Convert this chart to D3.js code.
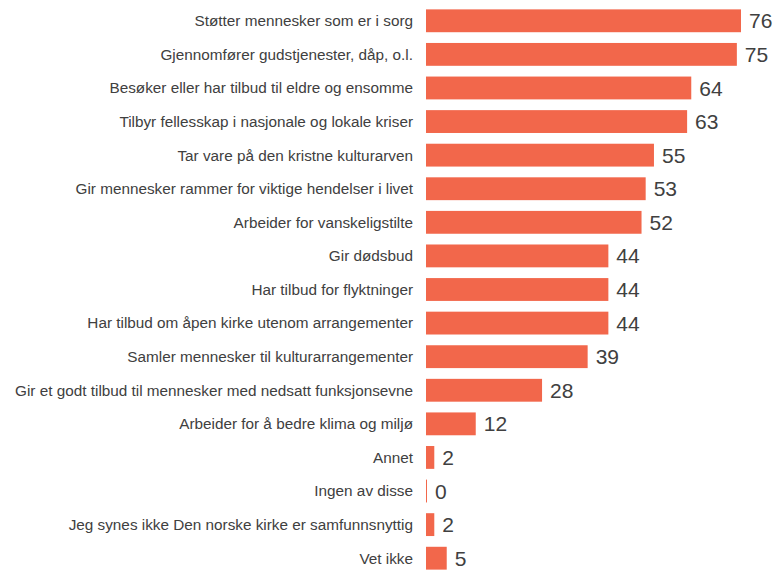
<!DOCTYPE html>
<html><head><meta charset="utf-8">
<script src="https://cdn.jsdelivr.net/npm/d3@7"></script>
<style>body{margin:0;background:#fff}</style>
</head><body>
<svg id="c" width="778" height="570"></svg>
<script>
const categories = [
  "Støtter mennesker som er i sorg",
  "Gjennomfører gudstjenester, dåp, o.l.",
  "Besøker eller har tilbud til eldre og ensomme",
  "Tilbyr fellesskap i nasjonale og lokale kriser",
  "Tar vare på den kristne kulturarven",
  "Gir mennesker rammer for viktige hendelser i livet",
  "Arbeider for vanskeligstilte",
  "Gir dødsbud",
  "Har tilbud for flyktninger",
  "Har tilbud om åpen kirke utenom arrangementer",
  "Samler mennesker til kulturarrangementer",
  "Gir et godt tilbud til mennesker med nedsatt funksjonsevne",
  "Arbeider for å bedre klima og miljø",
  "Annet",
  "Ingen av disse",
  "Jeg synes ikke Den norske kirke er samfunnsnyttig",
  "Vet ikke"
];
const values = [76, 75, 64, 63, 55, 53, 52, 44, 44, 44, 39, 28, 12, 2, 0, 2, 5];

const svg = d3.select("#c");
const x0 = 426;
const x = d3.scaleLinear().domain([0, 76]).range([x0, 741]);
const y = d3.scaleBand().domain(categories).range([4, 575]).paddingInner(0.32).paddingOuter(0.16);

const g = svg.append("g");
g.selectAll("rect").data(values).join("rect")
  .attr("x", x0)
  .attr("y", (d, i) => y(categories[i]))
  .attr("width", d => Math.max(1, x(d) - x0))
  .attr("height", y.bandwidth())
  .attr("fill", "#f2674b");

g.selectAll("text.v").data(values).join("text").attr("class", "v")
  .attr("x", d => Math.max(x0 + 1, x(d)) + 8)
  .attr("y", (d, i) => y(categories[i]) + y.bandwidth() / 2)
  .attr("dy", "0.36em")
  .attr("font-family", "'Liberation Sans', Arial, sans-serif")
  .attr("font-size", 21)
  .attr("fill", "#404040")
  .text(d => d);

g.selectAll("text.c").data(categories).join("text").attr("class", "c")
  .attr("x", 413)
  .attr("y", d => y(d) + y.bandwidth() / 2)
  .attr("dy", "0.35em")
  .attr("text-anchor", "end")
  .attr("font-family", "'Liberation Sans', Arial, sans-serif")
  .attr("font-size", 15.3)
  .attr("fill", "#404040")
  .text(d => d);
</script>
</body></html>
